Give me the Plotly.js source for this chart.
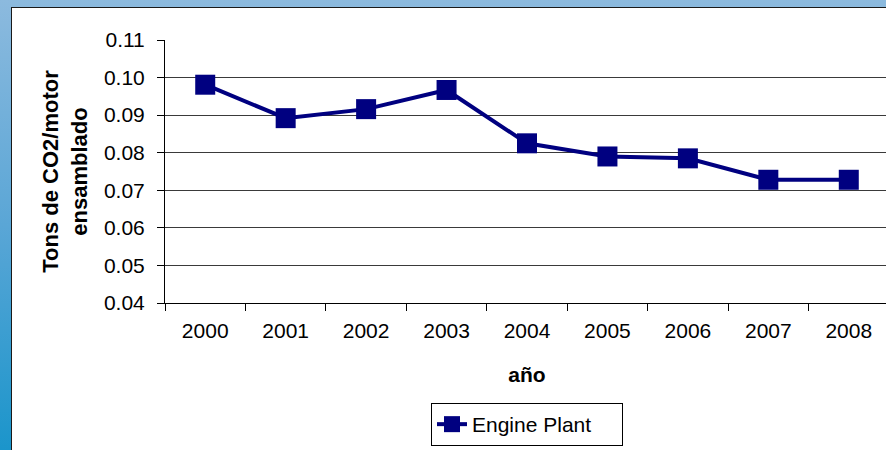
<!DOCTYPE html>
<html>
<head>
<meta charset="utf-8">
<script src="https://cdn.plot.ly/plotly-3.0.1.min.js"></script>
<style>
html, body { margin:0; padding:0; width:886px; height:450px; overflow:hidden; }
body { background: linear-gradient(to bottom, #8cbade 0%, #5aa6d6 50%, #1b95cb 100%); position:relative; }
#frame { position:absolute; left:11px; top:7px; width:900px; height:460px; border-left:1px solid #1a1a1a; border-top:1px solid #1a1a1a; background:#fff; }
#chart { position:absolute; left:0; top:0; width:880px; height:442px; }
</style>
</head>
<body>
<div id="frame"><div id="chart"></div></div>
<script>
const years = ['2000','2001','2002','2003','2004','2005','2006','2007','2008'];
const enginePlant = [0.0981, 0.0892, 0.0916, 0.0967, 0.0825, 0.0790, 0.0785, 0.0728, 0.0728];
const seriesName = 'Engine Plant';
const yTitle = 'Tons de CO2/motor<br>ensamblado';
const xTitle = 'año';

const fontFam = 'Liberation Sans, Arial, sans-serif';

const trace = {
  x: years, y: enginePlant, name: seriesName, type: 'scatter', mode: 'lines+markers',
  line: {color: '#000080', width: 4},
  marker: {symbol: 'square', size: 20, color: '#000080'}
};

const layout = {
  width: 880, height: 442,
  margin: {l: 153, r: 3.4, t: 32, b: 147},
  paper_bgcolor: '#ffffff', plot_bgcolor: '#ffffff',
  font: {family: fontFam, size: 22, color: '#000'},
  showlegend: true,
  legend: {
    orientation: 'h', x: 0.5, xanchor: 'center', xref: 'paper',
    yref: 'container', y: 4/442, yanchor: 'bottom',
    bordercolor: '#000', borderwidth: 1, bgcolor: '#fff',
    entrywidth: 145, tracegroupgap: 0,
    font: {family: fontFam, size: 21, color: '#000'}
  },
  xaxis: {
    type: 'category', range: [-0.5, 8.5], tickson: 'boundaries',
    ticks: 'outside', ticklen: 7, tickcolor: '#000', tickwidth: 1,
    showline: true, linecolor: '#000', linewidth: 1, showgrid: false,
    ticklabelstandoff: 9,
    tickfont: {family: fontFam, size: 21, color: '#000'},
    title: {text: '<b>' + xTitle + '</b>', font: {family: fontFam, size: 21, color: '#000'}, standoff: 26}
  },
  yaxis: {
    range: [0.04, 0.11], dtick: 0.01, tick0: 0.04, tickformat: '.2f',
    ticks: 'outside', ticklen: 7, tickcolor: '#000', tickwidth: 1,
    showline: true, linecolor: '#000', linewidth: 1,
    showgrid: true, gridcolor: '#3a3a3a', gridwidth: 1, zeroline: false,
    ticklabelstandoff: 8,
    tickfont: {family: fontFam, size: 21, color: '#000'},
    title: {text: '<b>' + yTitle + '</b>', font: {family: fontFam, size: 22, color: '#000'}, standoff: 10}
  }
};

Plotly.newPlot('chart', [trace], layout, {displayModeBar: false, staticPlot: true});
</script>
</body>
</html>
